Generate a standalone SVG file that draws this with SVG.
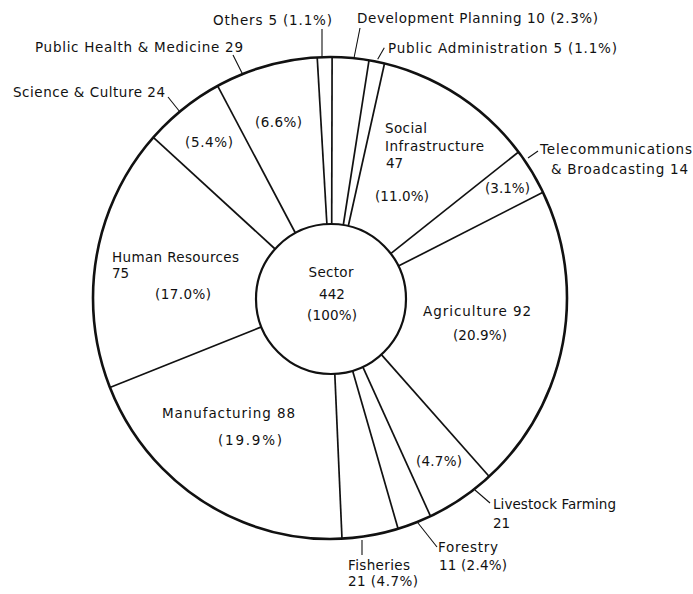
<svg xmlns="http://www.w3.org/2000/svg" width="693" height="594" viewBox="0 0 693 594">
<style>
text{font-family:"DejaVu Sans","Liberation Sans",sans-serif;font-size:13.5px;fill:#111}
.c{text-anchor:middle}
.ring{fill:none;stroke:#111;stroke-width:2.6}
.hub{fill:#fff;stroke:#111;stroke-width:2.2}
.div line{stroke:#111;stroke-width:1.7}
.lead line{stroke:#111;stroke-width:1.1}
</style>
<rect width="693" height="594" fill="#fff"/>
<g id="ring"><ellipse class="ring" cx="330" cy="298" rx="237" ry="241"/></g>
<g id="connectors">
<g class="div">
<line x1="326.9" y1="224.1" x2="317.2" y2="57.4"/>
<line x1="331.7" y1="224.0" x2="332.1" y2="57.0"/>
<line x1="343.3" y1="225.0" x2="369.0" y2="60.3"/>
<line x1="348.3" y1="226.0" x2="384.5" y2="63.5"/>
<line x1="390.7" y1="253.6" x2="518.5" y2="152.0"/>
<line x1="398.4" y1="266.1" x2="543.0" y2="192.3"/>
<line x1="381.4" y1="354.6" x2="489.2" y2="476.5"/>
<line x1="362.8" y1="366.9" x2="430.5" y2="516.2"/>
<line x1="352.6" y1="370.8" x2="398.1" y2="528.8"/>
<line x1="334.8" y1="373.9" x2="342.0" y2="538.7"/>
<line x1="261.4" y1="326.9" x2="109.9" y2="387.5"/>
<line x1="275.1" y1="249.0" x2="153.3" y2="137.4"/>
<line x1="295.4" y1="233.0" x2="217.6" y2="85.8"/>
</g>
<g class="lead">
<line x1="322" y1="29" x2="322" y2="57"/>
<line x1="360" y1="28" x2="354" y2="58"/>
<line x1="377.7" y1="59.3" x2="384.3" y2="47.7"/>
<line x1="233" y1="55" x2="243" y2="75"/>
<line x1="168" y1="97" x2="180" y2="112"/>
<line x1="528" y1="158" x2="538" y2="151"/>
<line x1="475" y1="490" x2="490" y2="503"/>
<line x1="418" y1="523" x2="437" y2="547"/>
<line x1="362" y1="540" x2="362" y2="555"/>
</g>
</g>
<g id="center">
<circle class="hub" cx="331" cy="299" r="75"/>
<text class="c" x="331" y="277" textLength="45">Sector</text>
<text class="c" x="332" y="299">442</text>
<text class="c" x="332" y="320" textLength="50">(100%)</text>
</g>
<g id="others"><text x="213" y="25" textLength="119">Others 5 (1.1%)</text></g>
<g id="development-planning"><text x="357" y="23" textLength="241">Development Planning 10 (2.3%)</text></g>
<g id="public-administration"><text x="388" y="53" textLength="229">Public Administration 5 (1.1%)</text></g>
<g id="social-infrastructure">
<text x="385" y="133" textLength="42">Social</text>
<text x="385" y="151" textLength="99">Infrastructure</text>
<text x="386" y="168">47</text>
<text x="375" y="201" textLength="54">(11.0%)</text>
</g>
<g id="telecommunications">
<text x="540" y="154" textLength="152">Telecommunications</text>
<text x="551" y="174" textLength="137">&amp; Broadcasting 14</text>
<text x="485" y="193" textLength="45">(3.1%)</text>
</g>
<g id="agriculture">
<text x="423" y="316" textLength="108">Agriculture 92</text>
<text x="453" y="340" textLength="54">(20.9%)</text>
</g>
<g id="livestock-farming">
<text x="416" y="466" textLength="46">(4.7%)</text>
<text x="493" y="509" textLength="123">Livestock Farming</text>
<text x="493" y="528">21</text>
</g>
<g id="forestry">
<text x="438" y="552" textLength="60">Forestry</text>
<text x="439" y="570" textLength="68">11 (2.4%)</text>
</g>
<g id="fisheries">
<text x="348" y="570" textLength="62">Fisheries</text>
<text x="348" y="586" textLength="70">21 (4.7%)</text>
</g>
<g id="manufacturing">
<text x="162" y="418" textLength="133">Manufacturing 88</text>
<text x="218" y="445" textLength="64">(19.9%)</text>
</g>
<g id="human-resources">
<text x="112" y="262" textLength="127">Human Resources</text>
<text x="112" y="278">75</text>
<text x="155" y="299" textLength="56">(17.0%)</text>
</g>
<g id="science-culture">
<text x="13" y="97" textLength="152">Science &amp; Culture 24</text>
<text x="185" y="147" textLength="48">(5.4%)</text>
</g>
<g id="public-health">
<text x="35" y="52" textLength="208">Public Health &amp; Medicine 29</text>
<text x="255" y="127" textLength="47">(6.6%)</text>
</g>
</svg>
